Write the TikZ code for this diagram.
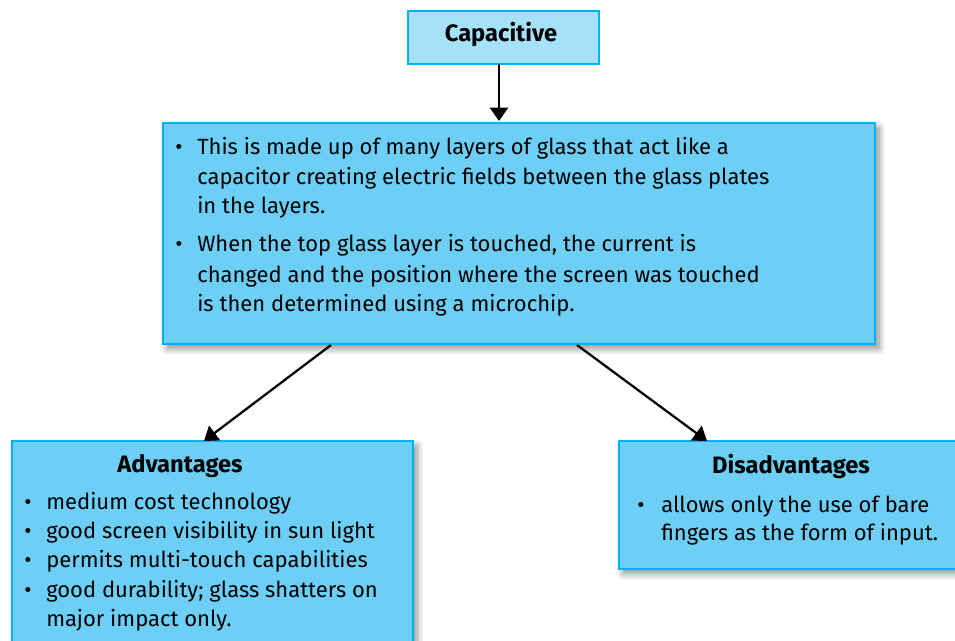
\documentclass[tikz,border=0pt]{standalone}
\usepackage{fontspec}
\setmainfont{Fira Sans}
\usetikzlibrary{arrows.meta,shadows.blur,fit}
\definecolor{boxedge}{HTML}{00B0F0}
\definecolor{boxfill}{HTML}{6DCFF6}
\definecolor{capfill}{HTML}{A6E1FA}
\tikzset{
  panel/.style={draw=boxedge, line width=2.2pt, fill=boxfill, inner sep=0pt},
  softshadow/.style={blur shadow={shadow xshift=3pt, shadow yshift=-3.5pt,
      shadow blur radius=5pt, shadow blur steps=12, shadow opacity=45}},
  body/.style={font=\fontsize{16.5}{22}\selectfont, inner sep=0pt, anchor=base west},
  dot/.style={font=\fontsize{16.5}{22}\selectfont, inner sep=0pt, anchor=base},
  heading/.style={font=\fontsize{17.8}{22}\selectfont\bfseries, inner sep=0pt, anchor=base},
  conn/.style={line width=1.7pt, -{Triangle[width=13.5pt,length=10pt]}}
}
\begin{document}
\begin{tikzpicture}[x=0.75pt, y=-0.75pt]
\useasboundingbox (0,0) rectangle (955,641);
\clip (0,0) rectangle (955,641);

% boxes
\node[panel, fill=capfill, fit={(408,11) (599,64)}] (cap) {};
\node[panel, softshadow, fit={(163,123) (875,344)}] (main) {};
\node[panel, softshadow, fit={(12,441) (413,660)}] (adv) {};
\node[panel, softshadow, fit={(619,441) (965,569)}] (dis) {};

% connector end points
\coordinate (c1) at (499,64);
\coordinate (c2) at (499,121);
\coordinate (l1) at (331,345);
\coordinate (l2) at (204,441);
\coordinate (r1) at (577,345);
\coordinate (r2) at (707,441);
\draw[conn] (c1) -- (c2);
\draw[conn] (l1) -- (l2);
\draw[conn] (r1) -- (r2);

% title
\node[heading] (captitle) at (501,42) {Capacitive};

% main description
\node[dot] (mb1) at (179,155) {\textbullet};
\node[body] (m1a) at (197,155) {This is made up of many layers of glass that act like a};
\node[body] (m1b) at (197,185) {capacitor creating electric fields between the glass plates};
\node[body] (m1c) at (197,214) {in the layers.};
\node[dot] (mb2) at (179,252) {\textbullet};
\node[body] (m2a) at (197,252) {When the top glass layer is touched, the current is};
\node[body] (m2b) at (197,282) {changed and the position where the screen was touched};
\node[body] (m2c) at (197,311) {is then determined using a microchip.};

% advantages
\node[heading] (advtitle) at (180,472) {Advantages};
\node[dot] (ab1) at (28,509) {\textbullet};
\node[body] (a1) at (46,509) {medium cost technology};
\node[dot] (ab2) at (28,538) {\textbullet};
\node[body] (a2) at (46,538) {good screen visibility in sun light};
\node[dot] (ab3) at (28,567) {\textbullet};
\node[body] (a3) at (46,567) {permits multi-touch capabilities};
\node[dot] (ab4) at (28,597) {\textbullet};
\node[body] (a4) at (46,597) {good durability; glass shatters on};
\node[body] (a5) at (46,626) {major impact only.};

% disadvantages
\node[heading] (distitle) at (791,473) {Disadvantages};
\node[dot] (db1) at (641,512) {\textbullet};
\node[body] (d1) at (661,512) {allows only the use of bare};
\node[body] (d2) at (661,540) {fingers as the form of input.};
\end{tikzpicture}
\end{document}
